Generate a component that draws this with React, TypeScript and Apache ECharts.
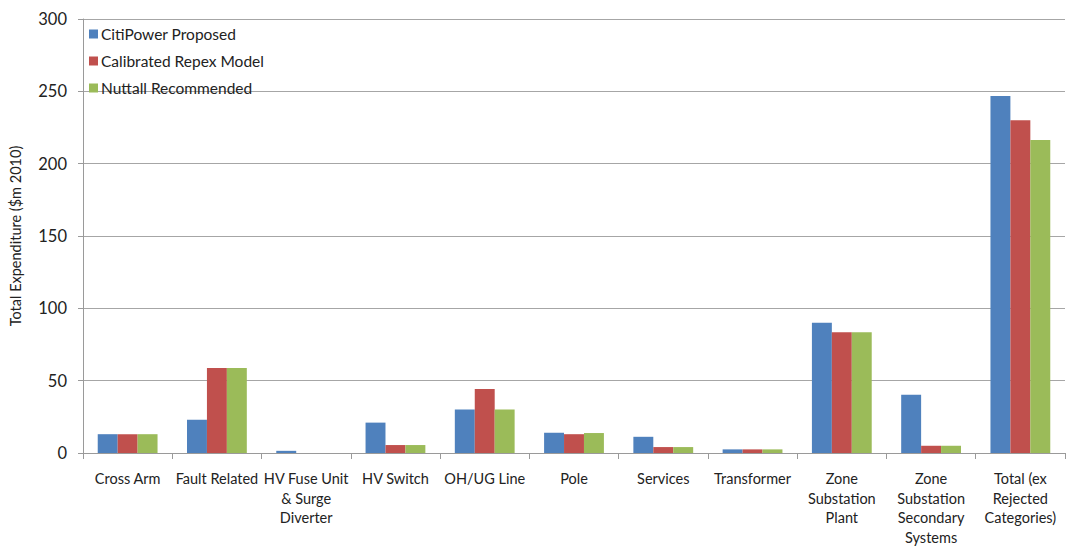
import React, { useEffect, useRef } from "react";
import * as echarts from "echarts";

// Expenditure categories (line breaks give the wrapped axis labels)
const categories = [
  "Cross Arm",
  "Fault Related",
  "HV Fuse Unit\n& Surge\nDiverter",
  "HV Switch",
  "OH/UG Line",
  "Pole",
  "Services",
  "Transformer",
  "Zone\nSubstation\nPlant",
  "Zone\nSubstation\nSecondary\nSystems",
  "Total (ex\nRejected\nCategories)",
];

// Total expenditure, $m 2010
const citiPowerProposed = [13, 23, 1.5, 21, 30, 14, 11.2, 2.5, 90, 40.3, 246.7];
const calibratedRepex = [13, 58.7, 0, 5.5, 44.3, 13, 4.1, 2.5, 83.5, 5, 230];
const nuttallRecommended = [13, 58.7, 0, 5.5, 30, 13.8, 4.1, 2.5, 83.5, 5, 216.4];

const yTicks = { min: 0, max: 300, interval: 50 };

const seriesNames = ["CitiPower Proposed", "Calibrated Repex Model", "Nuttall Recommended"];
const seriesColors = ["#4F81BD", "#C0504D", "#9BBB59"];

const FONT = "Lato, 'Open Sans', sans-serif";

export default function App() {
  const ref = useRef<HTMLDivElement>(null);

  useEffect(() => {
    if (!ref.current) return;
    const chart = echarts.init(ref.current, null, { renderer: "svg" });
    const values = [citiPowerProposed, calibratedRepex, nuttallRecommended];
    chart.setOption({
      animation: false,
      backgroundColor: "#ffffff",
      textStyle: { fontFamily: FONT },
      grid: { left: 80, right: 1, top: 19, bottom: 92, containLabel: false },
      legend: {
        orient: "vertical",
        left: 84,
        top: 21,
        itemWidth: 9,
        itemHeight: 9,
        itemGap: 11,
        icon: "rect",
        textStyle: { fontSize: 15.5, color: "#222", fontFamily: FONT, padding: [0, 0, 0, -2] },
        data: seriesNames,
      },
      xAxis: {
        type: "category",
        data: categories,
        axisLine: { lineStyle: { color: "#9a9a9a", width: 1 } },
        axisTick: { show: true, length: 6, alignWithLabel: false, lineStyle: { color: "#9a9a9a" } },
        axisLabel: {
          interval: 0,
          margin: 16,
          fontSize: 14.5,
          lineHeight: 19.5,
          color: "#222",
          fontFamily: FONT,
        },
      },
      yAxis: {
        type: "value",
        min: yTicks.min,
        max: yTicks.max,
        interval: yTicks.interval,
        name: "Total Expenditure ($m 2010)",
        nameLocation: "middle",
        nameGap: 60,
        nameTextStyle: { fontSize: 14.5, color: "#222", fontFamily: FONT },
        axisLine: { show: true, lineStyle: { color: "#9a9a9a", width: 1 } },
        axisTick: { show: true, length: 5, lineStyle: { color: "#9a9a9a" } },
        axisLabel: { fontSize: 16.5, color: "#222", margin: 16, fontFamily: FONT },
        splitLine: { lineStyle: { color: "#a6a6a6", width: 1 } },
      },
      series: seriesNames.map((name, i) => ({
        name,
        type: "bar",
        data: values[i],
        barGap: "0%",
        barCategoryGap: "33%",
        itemStyle: { color: seriesColors[i] },
      })),
    });
    return () => chart.dispose();
  }, []);

  return (
    <div
      ref={ref}
      style={{ position: "fixed", left: 0, top: 0, width: 1066, height: 547, background: "#fff" }}
    />
  );
}
